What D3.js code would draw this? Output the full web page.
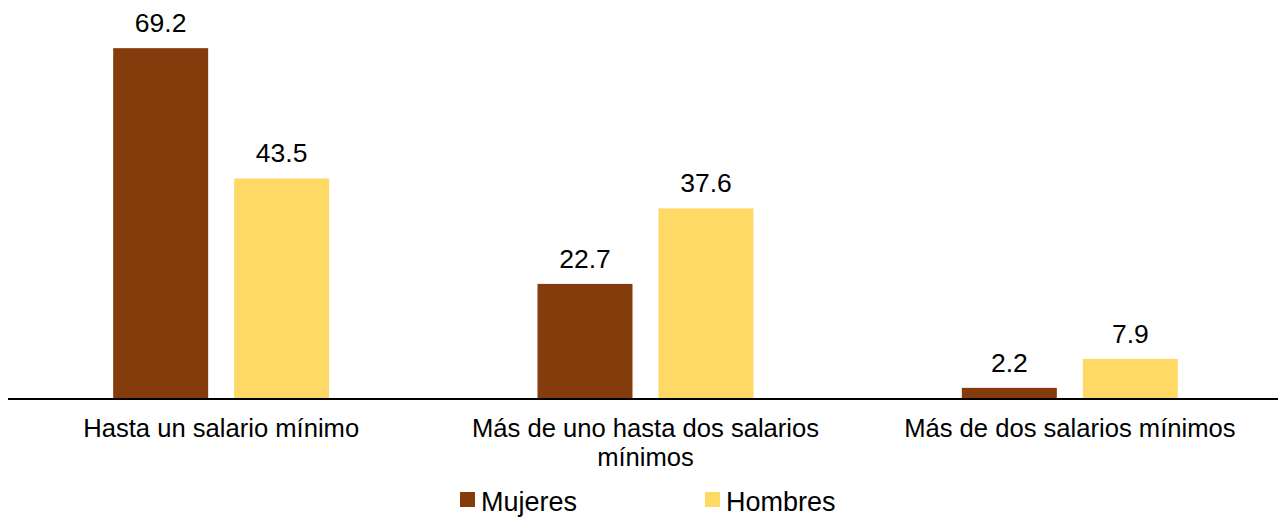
<!DOCTYPE html>
<html>
<head>
<meta charset="utf-8">
<script src="https://cdn.jsdelivr.net/npm/d3@7"></script>
<style>
  html, body { margin: 0; padding: 0; background: #fff; }
  svg { display: block; font-family: "Liberation Sans", Arial, sans-serif; }
</style>
</head>
<body>
<svg id="chart" width="1278" height="517"></svg>
<script>
const categories = ["Hasta un salario mínimo", "Más de uno hasta dos salarios mínimos", "Más de dos salarios mínimos"];
const seriesNames = ["Mujeres", "Hombres"];
const mujeres = [69.2, 22.7, 2.2];
const hombres = [43.5, 37.6, 7.9];
const colors = ["#843C0C", "#FFD966"];

const seriesValues = [mujeres, hombres];
const data = categories.map((c, i) => ({ cat: c, vals: seriesNames.map((s, j) => ({ s, v: seriesValues[j][i] })) }));

const svg = d3.select("#chart");
const baseY = 399;

const x0 = d3.scaleBand().domain(categories).range([9, 1282]).padding(0);
const groupW = 216;
const x1 = d3.scaleBand().domain(seriesNames).range([0, groupW]).paddingInner(0.215).paddingOuter(0);
const y = d3.scaleLinear().domain([0, 78.7]).range([baseY, 0]);
const color = d3.scaleOrdinal().domain(seriesNames).range(colors);

const g = svg.append("g");
const groups = g.selectAll(".grp").data(data).join("g")
  .attr("transform", d => `translate(${x0(d.cat) + x0.bandwidth() / 2 - groupW / 2},0)`);

groups.selectAll("rect").data(d => d.vals).join("rect")
  .attr("x", d => x1(d.s))
  .attr("y", d => y(d.v))
  .attr("width", x1.bandwidth())
  .attr("height", d => baseY - y(d.v))
  .attr("fill", d => color(d.s));

groups.selectAll("text.val").data(d => d.vals).join("text")
  .attr("class", "val")
  .attr("x", d => x1(d.s) + x1.bandwidth() / 2)
  .attr("y", d => y(d.v) - 16)
  .attr("text-anchor", "middle")
  .attr("font-size", "26.5px")
  .attr("fill", "#000")
  .text(d => d.v.toFixed(1));

// x axis
const xAxis = d3.axisBottom(x0).tickSize(0).tickPadding(0);
const axG = svg.append("g").attr("transform", `translate(0,${baseY})`).call(xAxis);
axG.select(".domain").remove();
svg.append("line").attr("x1", 8).attr("x2", 1278).attr("y1", baseY).attr("y2", baseY)
  .attr("stroke", "#000").attr("stroke-width", 2);

axG.selectAll(".tick text").each(function(d) {
  const t = d3.select(this);
  t.text(null).attr("font-size", "25.6px").attr("fill", "#000").attr("font-family", "Liberation Sans, Arial, sans-serif").attr("y", 0).attr("dy", 0);
  const words = d.split(" ");
  const maxW = 400;
  let lines = [], cur = [];
  const tmp = t.append("tspan");
  words.forEach(w => {
    cur.push(w);
    tmp.text(cur.join(" "));
    if (tmp.node().getComputedTextLength() > maxW && cur.length > 1) {
      cur.pop();
      lines.push(cur.join(" "));
      cur = [w];
    }
  });
  lines.push(cur.join(" "));
  tmp.remove();
  lines.forEach((ln, i) => {
    t.append("tspan").attr("x", 0).attr("y", 38 + i * 28.5).text(ln);
  });
});

// legend
const legendX = [460, 705];
const leg = svg.append("g");
seriesNames.forEach((s, i) => {
  leg.append("rect").attr("x", legendX[i]).attr("y", 492).attr("width", 15).attr("height", 15).attr("fill", color(s));
  leg.append("text").attr("x", legendX[i] + 21).attr("y", 511).attr("font-size", "27px").attr("fill", "#000").text(s);
});
</script>
</body>
</html>
